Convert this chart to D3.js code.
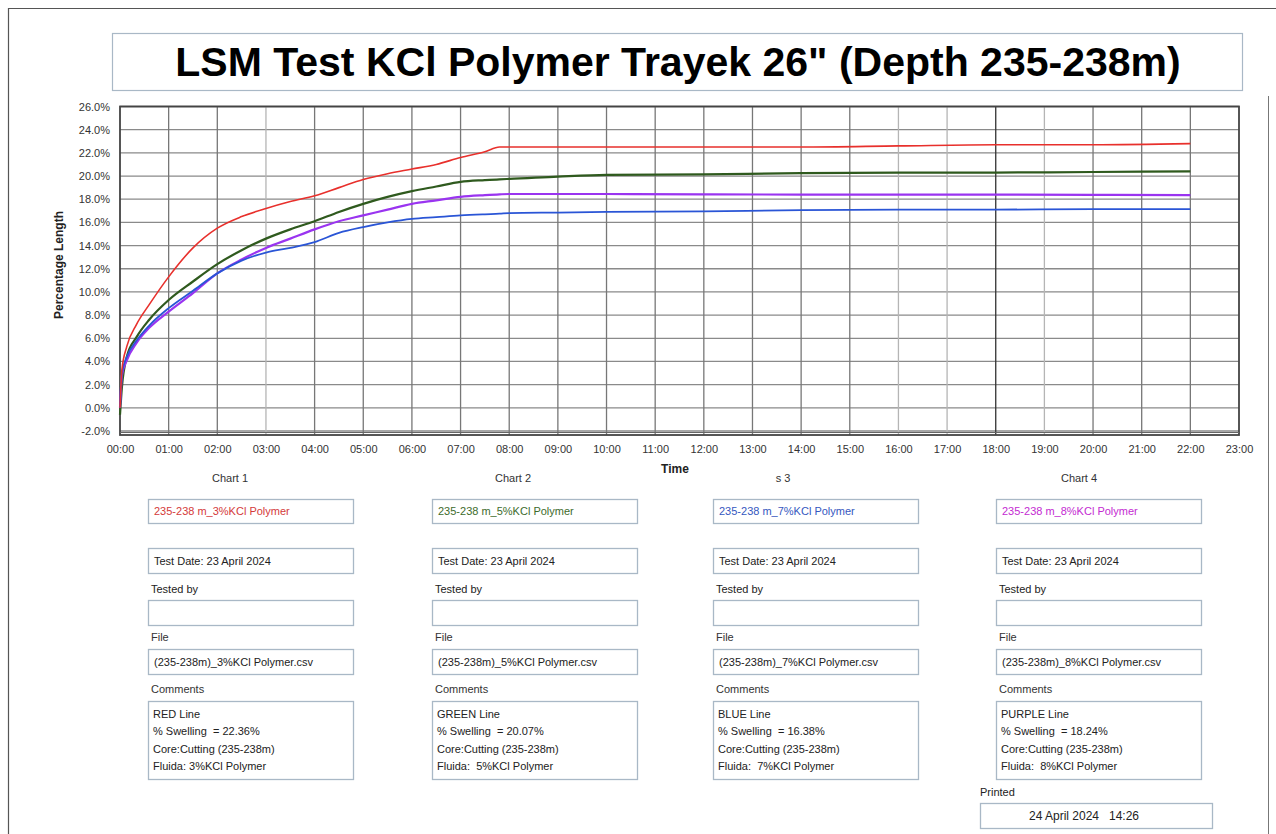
<!DOCTYPE html>
<html><head><meta charset="utf-8">
<script src="https://cdn.jsdelivr.net/npm/d3@7"></script>
<style>
html,body{margin:0;padding:0;background:#fff;}
svg{display:block;font-family:"Liberation Sans",Arial,sans-serif;}
text{white-space:pre;}
</style></head>
<body>
<svg id="c" width="1276" height="834"></svg>
<script>
// ---------- DATA ----------
const title = 'LSM Test KCl Polymer Trayek 26" (Depth 235-238m)';
const yTicks = [-2,0,2,4,6,8,10,12,14,16,18,20,22,24,26];
const xTickHours = d3.range(0,24);
const xTickLabels = xTickHours.map(h => String(h).padStart(2,"0")+":00");
const timeHours = [0,0.04,0.14,0.34,0.6,1.0,1.5,2.0,2.5,3.0,3.5,4.0,4.5,5.0,5.5,6.0,6.5,7.0,7.5,7.8,8,9,10,12,14,16,18,20,22];
const redValues    = [0,3.3,5.3,7.2,8.9,11.3,13.8,15.5,16.5,17.2,17.8,18.3,19.0,19.7,20.2,20.6,21.0,21.6,22.1,22.5,22.5,22.5,22.5,22.5,22.5,22.6,22.7,22.7,22.8];
const greenValues  = [-0.6,1.8,4.4,6.1,7.6,9.3,10.9,12.4,13.6,14.6,15.4,16.1,16.9,17.6,18.2,18.7,19.1,19.5,19.65,19.72,19.75,19.95,20.1,20.15,20.25,20.3,20.3,20.35,20.4];
const blueValues   = [0,3.0,4.4,5.8,7.1,8.6,10.1,11.6,12.7,13.4,13.8,14.3,15.1,15.6,16.0,16.3,16.45,16.6,16.7,16.75,16.8,16.85,16.9,16.95,17.05,17.1,17.1,17.15,17.15];
const purpleValues = [0,2.8,4.1,5.6,6.9,8.3,9.9,11.6,12.8,13.8,14.6,15.4,16.1,16.6,17.1,17.6,17.9,18.2,18.35,18.42,18.45,18.45,18.45,18.42,18.4,18.4,18.4,18.38,18.35];
const seriesNames  = ["235-238 m_3%KCl Polymer","235-238 m_5%KCl Polymer","235-238 m_7%KCl Polymer","235-238 m_8%KCl Polymer"];
const chartHeaders = ["Chart 1","Chart 2","s 3","Chart 4"];
const testDates    = ["Test Date: 23 April 2024","Test Date: 23 April 2024","Test Date: 23 April 2024","Test Date: 23 April 2024"];
const fileNames    = ["(235-238m)_3%KCl Polymer.csv","(235-238m)_5%KCl Polymer.csv","(235-238m)_7%KCl Polymer.csv","(235-238m)_8%KCl Polymer.csv"];
const comments = [
  ["RED Line","% Swelling  = 22.36%","Core:Cutting (235-238m)","Fluida: 3%KCl Polymer"],
  ["GREEN Line","% Swelling  = 20.07%","Core:Cutting (235-238m)","Fluida:  5%KCl Polymer"],
  ["BLUE Line","% Swelling  = 16.38%","Core:Cutting (235-238m)","Fluida:  7%KCl Polymer"],
  ["PURPLE Line","% Swelling  = 18.24%","Core:Cutting (235-238m)","Fluida:  8%KCl Polymer"]
];
const printedText = "24 April 2024   14:26";

// ---------- STYLE ----------
const lineColors = ["#e8302c","#2f5a1e","#2a55d6","#9a34f0"];
const labelColors = ["#d43a3a","#3d6b2c","#3557c0","#c42ad2"];
const lineWidths = [1.6,2.2,1.8,2.2];
const seriesValues = [redValues, greenValues, blueValues, purpleValues];

const svg = d3.select("#c");

// outer page frame
svg.append("line").attr("x1",8).attr("x2",1276).attr("y1",8.5).attr("y2",8.5).attr("stroke","#555").attr("stroke-width",1.2);
svg.append("line").attr("x1",8.5).attr("x2",8.5).attr("y1",8).attr("y2",834).attr("stroke","#555").attr("stroke-width",1.2);
svg.append("line").attr("x1",1268.5).attr("x2",1268.5).attr("y1",96).attr("y2",834).attr("stroke","#777").attr("stroke-width",1);

// title box
svg.append("rect").attr("x",112.5).attr("y",33.5).attr("width",1130).attr("height",57)
  .attr("fill","none").attr("stroke","#a9b8c6").attr("stroke-width",1.2);
svg.append("text").attr("x",678).attr("y",76).attr("text-anchor","middle")
  .attr("font-size",41).attr("font-weight","bold").attr("fill","#000").text(title);

// scales
const x = d3.scaleLinear().domain([0,23]).range([120,1239]);
const y = d3.scaleLinear().domain([-2,26]).range([431,106.5]);
const plotBottom = y(-2)+4;

// grid
const g = svg.append("g");
g.selectAll(".hg").data(yTicks).join("line")
  .attr("x1",x(0)).attr("x2",x(23)).attr("y1",d=>y(d)).attr("y2",d=>y(d))
  .attr("stroke","#8a8a8a").attr("stroke-width",1.3);
g.selectAll(".vg").data(xTickHours.slice(1,23)).join("line")
  .attr("x1",d=>x(d)).attr("x2",d=>x(d)).attr("y1",y(26)).attr("y2",plotBottom)
  .attr("stroke",d=> d===18 ? "#333" : (d===3||d===16||d===17||d===19 ? "#b5b5b5" : "#777"))
  .attr("stroke-width",1.3);

// frame
svg.append("rect").attr("x",x(0)).attr("y",y(26)).attr("width",x(23)-x(0)).attr("height",plotBottom-y(26))
  .attr("fill","none").attr("stroke","#444").attr("stroke-width",1.8);
svg.append("line").attr("x1",x(0)).attr("x2",x(23)).attr("y1",plotBottom-2.5).attr("y2",plotBottom-2.5).attr("stroke","#666").attr("stroke-width",1);

// axes labels via d3 axes
const yAxis = d3.axisLeft(y).tickValues(yTicks).tickFormat(d=>d.toFixed(1)+"%").tickSize(0).tickPadding(10);
const ya = svg.append("g").attr("transform",`translate(${x(0)},0)`).call(yAxis);
ya.select(".domain").remove();
ya.selectAll("text").attr("font-size",11).attr("fill","#333").attr("font-family","Liberation Sans, Arial, sans-serif");

const xAxis = d3.axisBottom(x).tickValues(xTickHours).tickFormat((d,i)=>xTickLabels[i]).tickSize(0).tickPadding(10);
const xa = svg.append("g").attr("transform",`translate(0,${plotBottom})`).call(xAxis);
xa.select(".domain").remove();
xa.selectAll("text").attr("font-size",11).attr("fill","#333").attr("font-family","Liberation Sans, Arial, sans-serif");

svg.append("text").attr("x",675).attr("y",473).attr("text-anchor","middle").attr("font-size",12).attr("font-weight","bold").attr("fill","#222").text("Time");
svg.append("text").attr("transform","translate(63,265) rotate(-90)").attr("text-anchor","middle").attr("font-size",12).attr("font-weight","bold").attr("fill","#222").text("Percentage Length");

// lines
const lineGen = d3.line().x((d,i)=>x(timeHours[i])).y(d=>y(d)).curve(d3.curveMonotoneX);
const drawOrder = [1,3,2,0];
drawOrder.forEach(k=>{
  svg.append("path").datum(seriesValues[k]).attr("d",lineGen)
    .attr("fill","none").attr("stroke",lineColors[k]).attr("stroke-width",lineWidths[k]).attr("stroke-linejoin","round");
});

// info panels
const colLeft = [148,432,713,996];
const colHeaderX = [230,513,783,1079];
const boxW = 205;
const boxStroke = "#a9b8c6";
function box(xx,yy,w,h){
  svg.append("rect").attr("x",xx+0.5).attr("y",yy+0.5).attr("width",w).attr("height",h)
    .attr("fill","#fff").attr("stroke",boxStroke).attr("stroke-width",1.3);
}
function txt(xx,yy,s,col,anchor){
  svg.append("text").attr("x",xx).attr("y",yy).attr("font-size",11).attr("fill",col||"#222")
    .attr("text-anchor",anchor||"start").attr("xml:space","preserve").text(s);
}
for(let i=0;i<4;i++){
  const L = colLeft[i];
  txt(colHeaderX[i],482,chartHeaders[i],"#333","middle");
  box(L,499,boxW,24); txt(L+6,515,seriesNames[i],labelColors[i]);
  box(L,548,boxW,25); txt(L+6,565,testDates[i],"#222");
  txt(L+3,593,"Tested by","#222");
  box(L,600,boxW,25);
  txt(L+3,641,"File","#333");
  box(L,649,boxW,25); txt(L+6,666,fileNames[i],"#222");
  txt(L+3,693,"Comments","#333");
  box(L,701,boxW,78);
  comments[i].forEach((c,j)=> txt(L+5,718+j*17.3,c,"#222"));
}
txt(980,796,"Printed","#222");
box(980,803,232,25);
svg.append("text").attr("x",1084).attr("y",820).attr("text-anchor","middle").attr("font-size",12).attr("fill","#222").attr("xml:space","preserve").text(printedText);
</script>
</body></html>
